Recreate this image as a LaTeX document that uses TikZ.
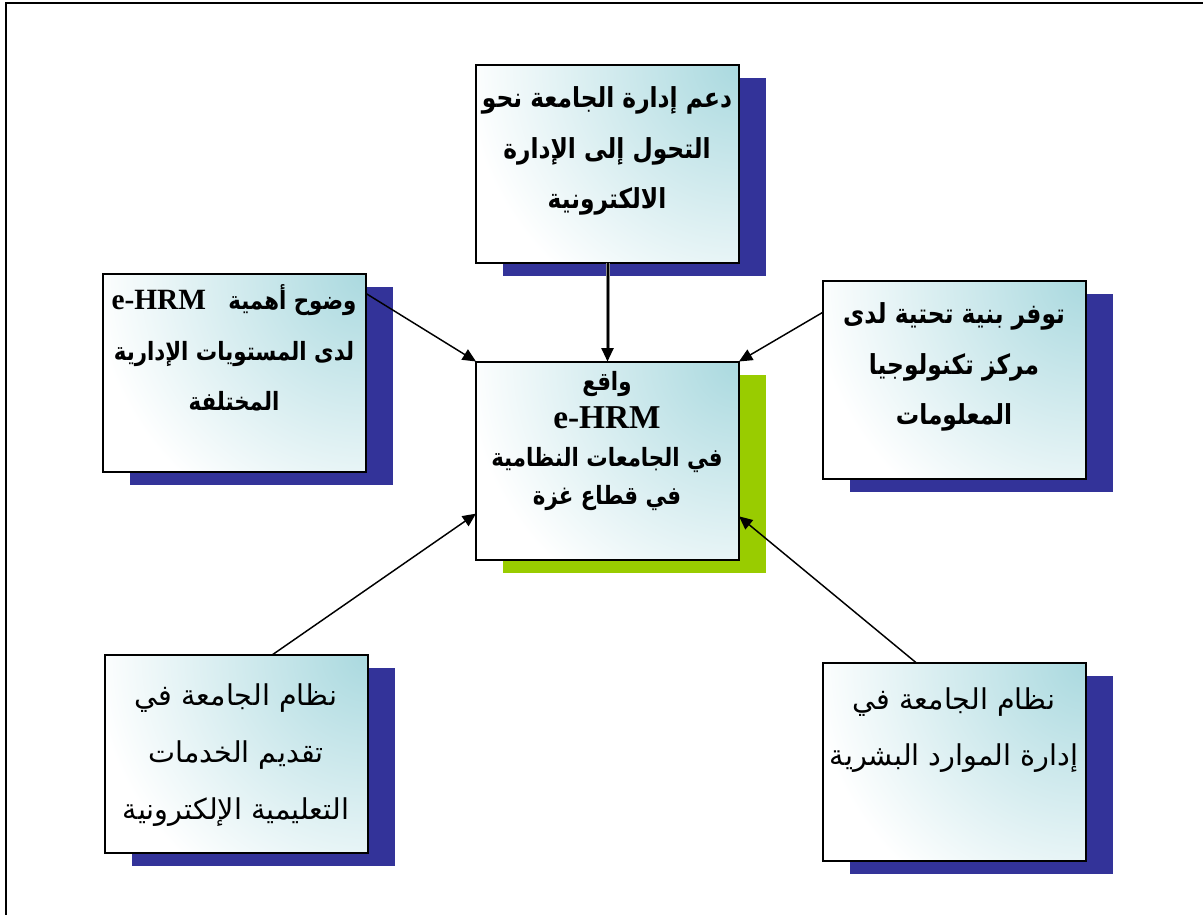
\documentclass[tikz,border=0pt]{standalone}
\usepackage{fontspec}
\usepackage{graphicx}
\usetikzlibrary{arrows.meta}
\TeXXeTstate=1
\newfontfamily\arabicfont[Script=Arabic]{DejaVu Sans}
\newfontfamily\latinfont{Liberation Serif}

\definecolor{shadowblue}{RGB}{51,51,153}
\definecolor{shadowgreen}{RGB}{153,204,0}
\definecolor{boxteal}{RGB}{170,217,223}

% one right-to-left line, slightly taller glyphs
\newcommand\rtlline[1]{\scalebox{1}[1.18]{\beginR #1\endR}}

\tikzset{
  panel/.style={rectangle, minimum width=197.25pt, minimum height=148.5pt,
    inner sep=0pt, outer sep=0pt},
  shadowpanel/.style={panel, fill=#1},
  card/.style={panel, draw=black, line width=1.5pt, fill=white,
    path picture={\shade[inner color=boxteal, outer color=white]
      (path picture bounding box.north east) circle (205pt);}},
  boldtext/.style={align=center, inner sep=0pt,
    font=\arabicfont\bfseries\fontsize{#1}{38}\selectfont},
  plaintext/.style={align=center, inner sep=0pt,
    font=\arabicfont\fontsize{#1}{42.5}\selectfont},
  link/.style={line width=1.1pt, -{Triangle[length=10pt,width=9pt]}},
}

\begin{document}
\begin{tikzpicture}[x=0.75pt, y=-0.75pt]
\useasboundingbox (0,0) rectangle (1203,914);

% outer frame (only top and left edges fall on the page)
\draw[line width=2.2pt, black] (6,930) -- (6,3) -- (1220,3);

% drop shadows
\node[shadowpanel=shadowblue]  (topshadow) at (634.5,176.5) {};
\node[shadowpanel=shadowblue]  (leftshadow) at (261.5,385.5) {};
\node[shadowpanel=shadowgreen] (centershadow) at (634.5,473.5) {};
\node[shadowpanel=shadowblue]  (rightshadow) at (981,392.5) {};
\node[shadowpanel=shadowblue]  (blshadow) at (263,767) {};
\node[shadowpanel=shadowblue]  (brshadow) at (981.5,775) {};

% cards
\node[card] (topbox) at (607.5,163.5) {};
\node[card] (leftbox) at (234.5,372.5) {};
\node[card] (centerbox) at (607.5,460.5) {};
\node[card] (rightbox) at (954,379.5) {};
\node[card] (blbox) at (236,754) {};
\node[card] (brbox) at (954.5,762) {};

% texts
\node[boldtext=17.5] (toptext) at (607,151) {%
  \rtlline{دعم إدارة الجامعة نحو}\\
  \rtlline{التحول إلى الإدارة}\\
  \rtlline{الالكترونية}};

\node[boldtext=16] (lefttext) at (234,348) {%
  \scalebox{1}[1.18]{\beginR وضوح أهمية \ \ \beginL{\latinfont\bfseries\fontsize{22}{38}\selectfont\scalebox{1}[0.85]{e-HRM}}\endL\endR}\\
  \rtlline{لدى المستويات الإدارية}\\
  \rtlline{المختلفة}};

\node[boldtext=17.5] (righttext) at (954,367) {%
  \rtlline{توفر بنية تحتية لدى}\\
  \rtlline{مركز تكنولوجيا}\\
  \rtlline{المعلومات}};

\node[align=center, inner sep=0pt,
      font=\arabicfont\bfseries\fontsize{16}{28.5}\selectfont] (centertext) at (607,441) {%
  \rtlline{واقع}\\
  {\latinfont\bfseries\fontsize{25}{28.5}\selectfont e-HRM}\\
  \rtlline{في الجامعات النظامية}\\
  \rtlline{في قطاع غزة}};

\node[plaintext=21.5] (bltext) at (236,755) {%
  \beginR نظام الجامعة في\endR\\
  \beginR تقديم الخدمات\endR\\
  \beginR التعليمية الإلكترونية\endR};

\node[plaintext=21.5] (brtext) at (954,730) {%
  \beginR نظام الجامعة في\endR\\
  \beginR إدارة الموارد البشرية\endR};

% connectors
\draw[line width=3pt, black!45, shorten >=9pt] (topbox.south) -- (centerbox.north);
\draw[link, line width=1.5pt] (topbox.south) -- (centerbox.north);
\draw[link] (leftbox.31.6) -- (centerbox.north west);
\draw[link] (rightbox.153.8) -- (centerbox.north east);
\draw[link] (blbox.70.5) -- (centerbox.202.1);
\draw[link] (brbox.111.6) -- (centerbox.337.9);
\end{tikzpicture}
\end{document}
